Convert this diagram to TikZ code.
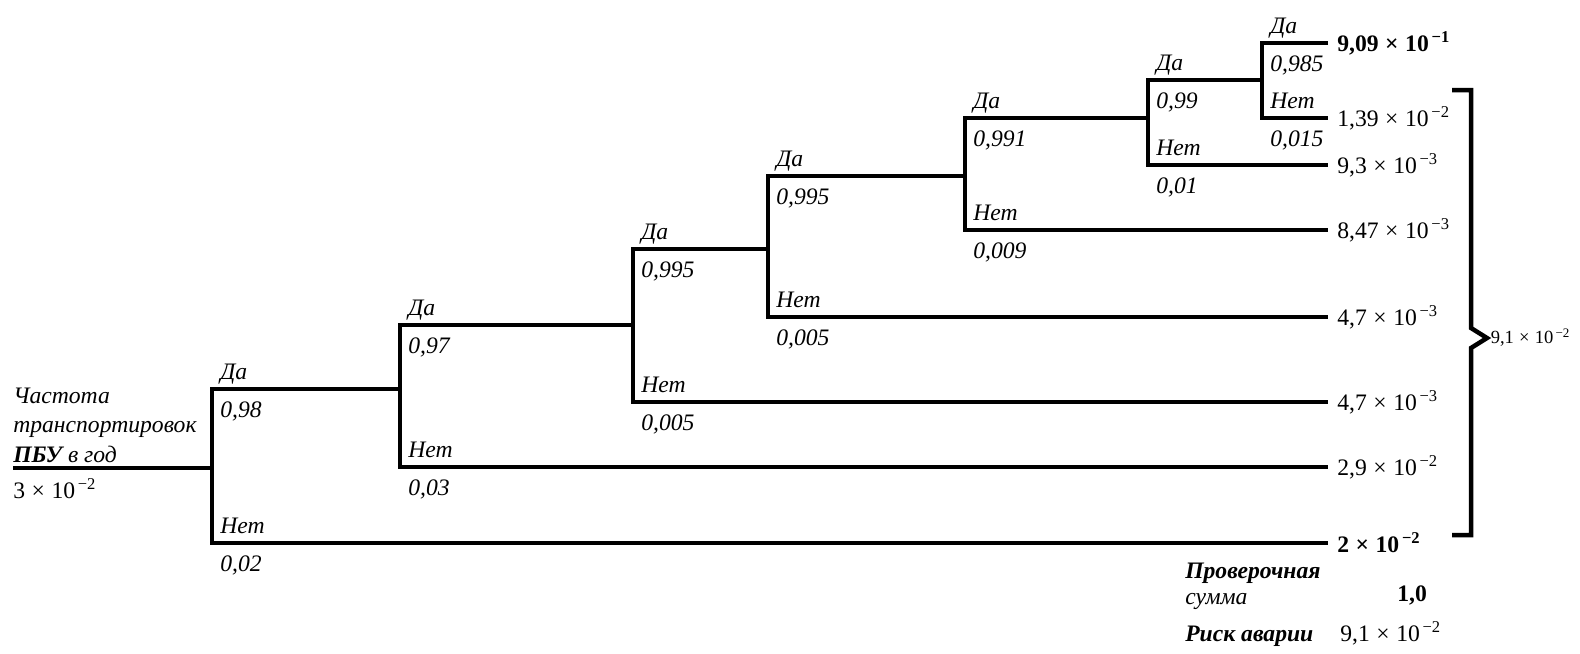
\documentclass[tikz,border=0pt]{standalone}
\usepackage{fontspec}
\setmainfont{Liberation Serif}
\newcommand{\tsz}{\fontsize{16.8}{21}\selectfont}
\newcommand{\ssz}{\fontsize{13.2}{15}\selectfont}
\newcommand{\tpow}[1]{\;×\;10\textsuperscript{\,#1}}

\tikzset{
  br/.style={line width=2.2pt},
  ans/.style={anchor=base west, inner sep=0pt, font=\tsz\itshape},
  prob/.style={anchor=base west, inner sep=0pt, font=\tsz\itshape},
  val/.style={anchor=west, inner xsep=6.4pt, inner ysep=0pt, font=\tsz},
}

\begin{document}
\begin{tikzpicture}[x=0.025cm, y=-0.025cm]
    \useasboundingbox (0,0) rectangle (1580,653);
    % Forks of the tree (yes / no ends)
    \coordinate (in) at (13,468);
    \coordinate (y1) at (212,389);  \coordinate (n1) at (212,543);
    \coordinate (y2) at (400,325);  \coordinate (n2) at (400,467);
    \coordinate (y3) at (633,249);  \coordinate (n3) at (633,402);
    \coordinate (y4) at (768,176);  \coordinate (n4) at (768,317);
    \coordinate (y5) at (965,118);  \coordinate (n5) at (965,230);
    \coordinate (y6) at (1148,80);  \coordinate (n6) at (1148,165);
    \coordinate (y7) at (1262,43);  \coordinate (n7) at (1262,118);
    % Outcomes
    \node[val, font=\tsz\bfseries] (yv) at (1328,43) {9,09\tpow{−1}};
    \node[val] (nv7) at (1328,118) {1,39\tpow{−2}};
    \node[val] (nv6) at (1328,165) {9,3\tpow{−3}};
    \node[val] (nv5) at (1328,230) {8,47\tpow{−3}};
    \node[val] (nv4) at (1328,317) {4,7\tpow{−3}};
    \node[val] (nv3) at (1328,402) {4,7\tpow{−3}};
    \node[val] (nv2) at (1328,467) {2,9\tpow{−2}};
    \node[val, font=\tsz\bfseries] (nv1) at (1328,543) {2\tpow{−2}};
    % Branches
    \draw[br] (in) -- (in -| y1);
    \foreach \k/\j in {1/2,2/3,3/4,4/5,5/6,6/7}
        \draw[br] (y\k -| y\j) -- (y\k) -- (n\k) -- (nv\k.west);
    \draw[br] (yv.west) -- (y7) -- (n7) -- (nv7.west);
    % Labels
    \foreach \k/\p/\q in {1/{0,98}/{0,02}, 2/{0,97}/{0,03}, 3/{0,995}/{0,005},
                          4/{0,995}/{0,005}, 5/{0,991}/{0,009}, 6/{0,99}/{0,01},
                          7/{0,985}/{0,015}} {
        \node[ans] (da\k) at ([shift={(8,-10)}]y\k) {Да};
        \node[prob] (pd\k) at ([shift={(8,28)}]y\k) {\p};
        \node[ans] (net\k) at ([shift={(8,-10)}]n\k) {Нет};
        \node[prob] (pn\k) at ([shift={(8,28)}]n\k) {\q};
    }
    % Initiating event
    \node[anchor=south west, inner sep=0pt, align=left, font=\tsz\itshape] (freq) at (13,463)
        {Частота\\транспортировок\\\textbf{ПБУ} в год};
    \node[anchor=base west, inner sep=0pt, font=\tsz] (freqv) at (13,498) {3\tpow{−2}};
    % Brace and total
    \coordinate (tip) at (1487,338);
    \draw[line width=3.2pt] (1452,90) -- (1471,90) -- (1471,328) -- (tip)
        -- (1471,348) -- (1471,535) -- (1452,535);
    \node[anchor=west, inner sep=2.5pt, font=\ssz] (tot) at (tip) {9,1\tpow{−2}};
    % Check sum and risk
    \node[anchor=north west, inner sep=0pt, align=left, font=\fontsize{16.8}{18}\selectfont\itshape] (chk) at (1185,563)
        {\textbf{Проверочная}\\сумма};
    \node[anchor=base west, inner sep=0pt, font=\tsz\bfseries] (chkv) at (1397,601) {1,0};
    \node[anchor=base west, inner sep=0pt, font=\tsz\bfseries\itshape] (risk) at (1185,641) {Риск аварии};
    \node[anchor=base west, inner sep=0pt, font=\tsz] (riskv) at (1340,641) {9,1\tpow{−2}};
\end{tikzpicture}
\end{document}
